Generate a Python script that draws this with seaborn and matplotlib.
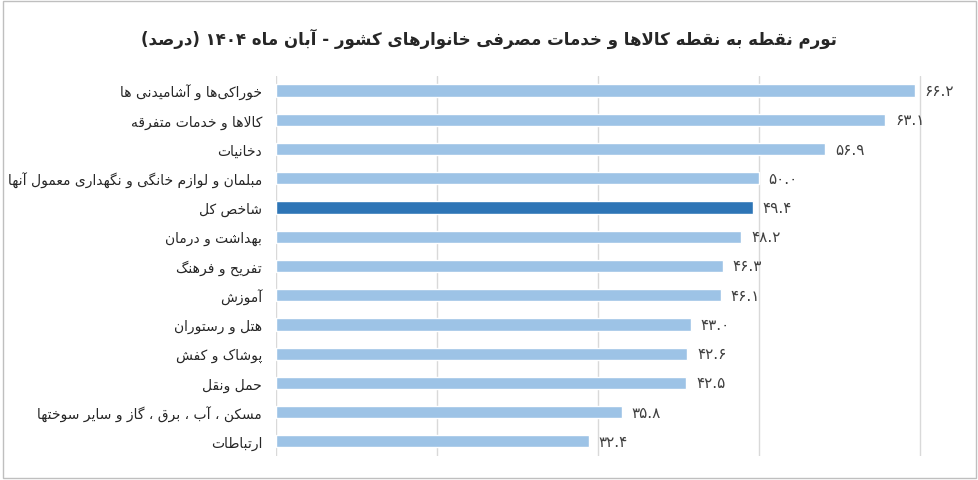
import matplotlib
matplotlib.use("Agg")
import matplotlib.pyplot as plt
import seaborn as sns
import pandas as pd
import numpy as np

categories = ["خوراکی\u200cها و آشامیدنی ها", "کالاها و خدمات متفرقه", "دخانیات",
              "مبلمان و لوازم خانگی و نگهداری معمول آنها", "شاخص کل", "بهداشت و درمان",
              "تفریح و فرهنگ", "آموزش", "هتل و رستوران", "پوشاک و کفش", "حمل ونقل",
              "مسکن ، آب ، برق ، گاز و سایر سوختها", "ارتباطات"]
values = [66.2, 63.1, 56.9, 50.0, 49.4, 48.2, 46.3, 46.1, 43.0, 42.6, 42.5, 35.8, 32.4]
title = "تورم نقطه به نقطه کالاها و خدمات مصرفی خانوارهای کشور - آبان ماه ۱۴۰۴ (درصد)"

# minimal Persian shaping: letter -> (isolated, final, initial, medial)
F = {
 'ا': (0xFE8D, 0xFE8E, None, None), 'آ': (0xFE81, 0xFE82, None, None),
 'ب': (0xFE8F, 0xFE90, 0xFE91, 0xFE92), 'پ': (0xFB56, 0xFB57, 0xFB58, 0xFB59),
 'ت': (0xFE95, 0xFE96, 0xFE97, 0xFE98), 'ث': (0xFE99, 0xFE9A, 0xFE9B, 0xFE9C),
 'ج': (0xFE9D, 0xFE9E, 0xFE9F, 0xFEA0), 'چ': (0xFB7A, 0xFB7B, 0xFB7C, 0xFB7D),
 'ح': (0xFEA1, 0xFEA2, 0xFEA3, 0xFEA4), 'خ': (0xFEA5, 0xFEA6, 0xFEA7, 0xFEA8),
 'د': (0xFEA9, 0xFEAA, None, None), 'ذ': (0xFEAB, 0xFEAC, None, None),
 'ر': (0xFEAD, 0xFEAE, None, None), 'ز': (0xFEAF, 0xFEB0, None, None),
 'ژ': (0xFB8A, 0xFB8B, None, None),
 'س': (0xFEB1, 0xFEB2, 0xFEB3, 0xFEB4), 'ش': (0xFEB5, 0xFEB6, 0xFEB7, 0xFEB8),
 'ص': (0xFEB9, 0xFEBA, 0xFEBB, 0xFEBC), 'ض': (0xFEBD, 0xFEBE, 0xFEBF, 0xFEC0),
 'ط': (0xFEC1, 0xFEC2, 0xFEC3, 0xFEC4), 'ظ': (0xFEC5, 0xFEC6, 0xFEC7, 0xFEC8),
 'ع': (0xFEC9, 0xFECA, 0xFECB, 0xFECC), 'غ': (0xFECD, 0xFECE, 0xFECF, 0xFED0),
 'ف': (0xFED1, 0xFED2, 0xFED3, 0xFED4), 'ق': (0xFED5, 0xFED6, 0xFED7, 0xFED8),
 'ک': (0xFB8E, 0xFB8F, 0xFB90, 0xFB91), 'گ': (0xFB92, 0xFB93, 0xFB94, 0xFB95),
 'ل': (0xFEDD, 0xFEDE, 0xFEDF, 0xFEE0), 'م': (0xFEE1, 0xFEE2, 0xFEE3, 0xFEE4),
 'ن': (0xFEE5, 0xFEE6, 0xFEE7, 0xFEE8), 'ه': (0xFEE9, 0xFEEA, 0xFEEB, 0xFEEC),
 'و': (0xFEED, 0xFEEE, None, None), 'ی': (0xFBFC, 0xFBFD, 0xFBFE, 0xFBFF),
}

def shape(s):
    out = []
    chars = list(s)
    n = len(chars)
    def joins_left(i):
        return i < n and chars[i] in F and F[chars[i]][2] is not None
    i = 0
    while i < n:
        c = chars[i]
        if c == '\u200c':
            i += 1
            continue
        if c not in F:
            out.append(c); i += 1; continue
        prev_j = i > 0 and joins_left(i - 1)
        if c == 'ل' and i + 1 < n and chars[i + 1] in ('ا', 'آ'):
            lig = (0xFEFB, 0xFEFC) if chars[i + 1] == 'ا' else (0xFEF5, 0xFEF6)
            out.append(chr(lig[1] if prev_j else lig[0])); i += 2; continue
        nxt_j = F[c][2] is not None and i + 1 < n and chars[i + 1] in F
        iso, fin, ini, med = F[c]
        if prev_j and nxt_j: g = med
        elif prev_j: g = fin
        elif nxt_j: g = ini
        else: g = iso
        out.append(chr(g)); i += 1
    res = []
    run = ''
    for ch in out:
        if ch.isdigit() or (run and ch == '.'):
            run += ch
        else:
            if run: res.append(run); run = ''
            res.append(ch)
    if run: res.append(run)
    mirror = {'(': ')', ')': '('}
    return ''.join(mirror.get(t, t) for t in reversed(res))

def fa_num(v):
    d = '۰۱۲۳۴۵۶۷۸۹'
    return ''.join(d[int(c)] if c.isdigit() else c for c in f"{v:.1f}")

sns.set_style("white")
plt.rcParams['font.family'] = ['DejaVu Sans']

df = pd.DataFrame({"cat": [shape(c) for c in categories], "val": values})
colors = ['#2E75B6' if c == "شاخص کل" else '#9DC3E6' for c in categories]

fig = plt.figure(figsize=(9.79, 4.81), dpi=100)
fig.patches.append(plt.Rectangle((0.003, 0.005), 0.994, 0.99, transform=fig.transFigure,
                                 fill=False, edgecolor='#BFBFBF', lw=1))
ax = fig.add_axes([0.282, 0.05, 0.71, 0.79])
sns.barplot(data=df, x="val", y="cat", hue="cat", palette=colors, legend=False,
            width=0.42, saturation=1, ax=ax, orient='h')
ax.set_xlim(0, 72)
for x in np.arange(0, 72, 50 / 3):
    ax.axvline(x, color='#D9D9D9', lw=1, zorder=0)
ax.set_xticks([])
ax.set_xlabel(""); ax.set_ylabel("")
ax.tick_params(axis='y', length=0, labelsize=10, pad=10, labelcolor='#262626')
for s in ax.spines.values():
    s.set_visible(False)
for i, v in enumerate(values):
    ax.text(v + 1.0, i, fa_num(v), va='center', ha='left', fontsize=11, color='#404040')
fig.text(0.5, 0.92, shape(title), ha='center', va='center', fontsize=12, fontweight='bold')
fig.savefig("out.png", dpi=100)
